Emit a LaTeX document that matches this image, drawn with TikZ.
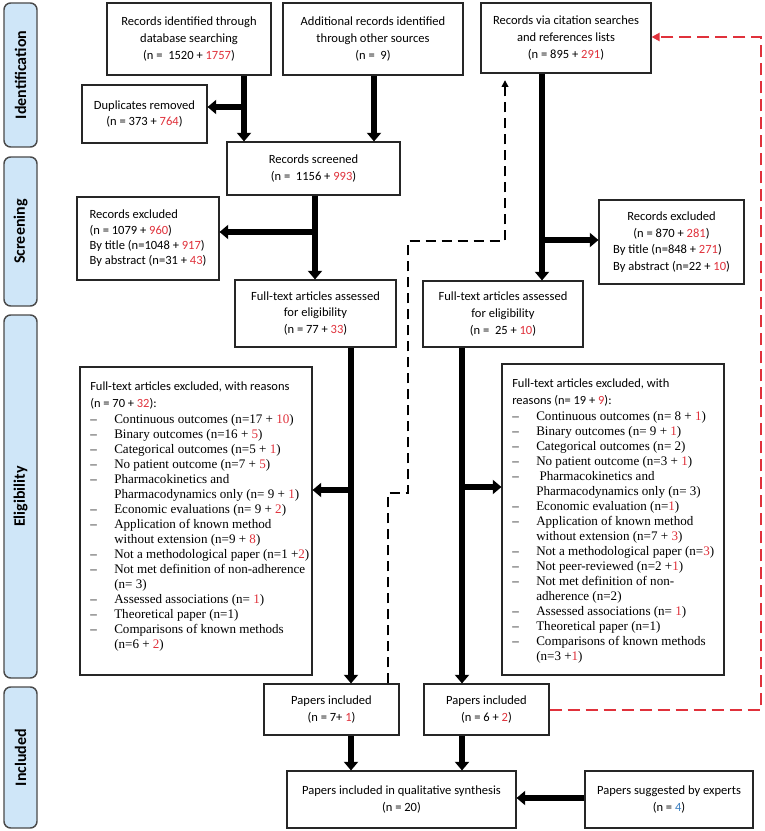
\documentclass[tikz,border=0pt]{standalone}
\usepackage{fontspec}
\setmainfont{Carlito}
\newfontfamily\tnr{Liberation Serif}
\usetikzlibrary{arrows.meta}
\definecolor{rd}{HTML}{E0313B}
\definecolor{bl}{HTML}{3C7FC0}
\definecolor{phfill}{HTML}{CFE6F8}
\definecolor{phdraw}{HTML}{4A4A4A}
\newcommand\rd[1]{\textcolor{rd}{#1}}
\newcommand\hd{\fontsize{9.35}{11.25}\selectfont}
\newcommand\itm[1]{\makebox[18pt][l]{\tnr –}{\tnr #1}}
\newcommand\cnt[1]{\hspace*{18pt}{\tnr #1}}
\begin{document}
\begin{tikzpicture}[x=0.75pt,y=-0.75pt,
  box/.style={draw=black!85, line width=0.8pt, inner sep=0pt, align=center, font=\fontsize{9.4}{12.5}\selectfont},
  phase/.style={draw=phdraw, fill=phfill, line width=1.1pt, rounded corners=5pt, rotate=90, inner sep=0pt, font=\fontsize{12}{14}\selectfont\bfseries, minimum height=24.75pt},
  txt/.style={anchor=north west, inner sep=0pt, align=left, font=\fontsize{9.8}{11.25}\selectfont},
  thick arrow/.style={line width=4.5pt, -{Triangle[width=10.5pt,length=6.5pt]}},
  dash arrow/.style={line width=1.1pt, dash pattern=on 7.5pt off 4.5pt, -{Triangle[width=5pt,length=5pt]}},
  red arrow/.style={draw=rd, line width=1.5pt, dash pattern=on 9pt off 4.5pt, -{Triangle[width=6pt,length=6pt]}}
]
\fill[white] (0,0) rectangle (764,831);
\useasboundingbox (0,0) rectangle (764,831);

% phase labels
\node[phase, minimum width=108pt] (ph1) at (20.5,75) {Identification};
\node[phase, minimum width=111.75pt] (ph2) at (20.5,231.5) {Screening};
\node[phase, minimum width=272.25pt] (ph3) at (20.5,496.5) {Eligibility};
\node[phase, minimum width=105.75pt] (ph4) at (20.5,757.5) {Included};

% identification
\node[box, minimum width=123pt, minimum height=54pt] (db) at (189,39) {Records identified through\\database searching\\(n =\ \ 1520 + \rd{1757})};
\node[box, minimum width=135pt, minimum height=54pt] (other) at (373,39) {Additional records identified\\through other sources\\(n =\ \ 9)};
\node[box, minimum width=127.5pt, minimum height=52.5pt] (cit) at (566,38) {Records via citation searches\\and references lists\\(n = 895 + \rd{291})};
\node[box, minimum width=93.75pt, minimum height=43.5pt] (dup) at (144.5,114) {Duplicates removed\\(n = 373 + \rd{764})};

% screening
\node[box, minimum width=129.75pt, minimum height=39.75pt] (scr) at (313.5,168.5) {Records screened\\(n =\ \ 1156 + \rd{993})};
\node[box, minimum width=106.5pt, minimum height=62.25pt, align=left, font=\fontsize{9.4}{11.5}\selectfont] (exsL) at (148,238.5) {Records excluded\\(n = 1079 + \rd{960})\\By title (n=1048 + \rd{917})\\By abstract (n=31 + \rd{43})};
\node[box, minimum width=108.75pt, minimum height=63pt] (exsR) at (671.5,242) {\begin{tabular}{@{}l@{}}\multicolumn{1}{@{}c@{}}{Records excluded}\\\multicolumn{1}{@{}c@{}}{(n = 870 + \rd{281})}\\By title (n=848 + \rd{271})\\By abstract (n=22 + \rd{10})\end{tabular}};
\node[box, minimum width=120.75pt, minimum height=50.25pt] (ftL) at (315.5,313.5) {Full-text articles assessed\\for eligibility\\(n = 77 + \rd{33})};
\node[box, minimum width=120pt, minimum height=49.5pt] (ftR) at (503,314) {Full-text articles assessed\\for eligibility\\(n =\ \ 25 + \rd{10})};

% eligibility
\node[box, minimum width=174pt, minimum height=231pt] (exL) at (196,521) {};
\node[box, minimum width=166.5pt, minimum height=233.25pt] (exR) at (613,519.5) {};
\node[txt] (exLt) at (90,382) {%
{\hd Full-text articles excluded, with reasons}\\[1.5pt]
{\hd (n = 70 + \rd{32}):}\\[0.75pt]
\itm{Continuous outcomes (n=17 + \rd{10})}\\
\itm{Binary outcomes (n=16 + \rd{5})}\\
\itm{Categorical outcomes (n=5 + \rd{1})}\\
\itm{No patient outcome (n=7 + \rd{5})}\\
\itm{Pharmacokinetics and}\\
\cnt{Pharmacodynamics only (n= 9 + \rd{1})}\\
\itm{Economic evaluations (n= 9 + \rd{2})}\\
\itm{Application of known method}\\
\cnt{without extension (n=9 + \rd{8})}\\
\itm{Not a methodological paper (n=1 +\rd{2})}\\
\itm{Not met definition of non-adherence}\\
\cnt{(n= 3)}\\
\itm{Assessed associations (n= \rd{1})}\\
\itm{Theoretical paper (n=1)}\\
\itm{Comparisons of known methods}\\
\cnt{(n=6 + \rd{2})}};
\node[txt] (exRt) at (512,379) {%
{\hd Full-text articles excluded, with}\\[1.5pt]
{\hd reasons (n= 19 + \rd{9}):}\\[0.75pt]
\itm{Continuous outcomes (n= 8 + \rd{1})}\\
\itm{Binary outcomes (n= 9 + \rd{1})}\\
\itm{Categorical outcomes (n= 2)}\\
\itm{No patient outcome (n=3 + \rd{1})}\\
\itm{\ Pharmacokinetics and}\\
\cnt{Pharmacodynamics only (n= 3)}\\
\itm{Economic evaluation (n=\rd{1})}\\
\itm{Application of known method}\\
\cnt{without extension (n=7 + \rd{3})}\\
\itm{Not a methodological paper (n=\rd{3})}\\
\itm{Not peer-reviewed (n=2 +\rd{1})}\\
\itm{Not met definition of non-}\\
\cnt{adherence (n=2)}\\
\itm{Assessed associations (n= \rd{1})}\\
\itm{Theoretical paper (n=1)}\\
\itm{Comparisons of known methods}\\
\cnt{(n=3 +\rd{1})}};

% included
\node[box, minimum width=101.25pt, minimum height=38.25pt] (piL) at (331.5,709.5) {Papers included\\(n = 7+ \rd{1})};
\node[box, minimum width=93.75pt, minimum height=38.25pt] (piR) at (486.5,709.5) {Papers included\\(n = 6 + \rd{2})};
\node[box, minimum width=171.75pt, minimum height=42.75pt] (fin) at (401.5,799.5) {Papers included in qualitative synthesis\\(n = 20)};
\node[box, minimum width=126pt, minimum height=42.75pt] (exp) at (669,799.5) {Papers suggested by experts\\(n = \textcolor{bl}{4})};

% connectors
\coordinate (j1) at (244,107);
\coordinate (j2) at (315,232);
\coordinate (j3) at (542,240);
\coordinate (j4) at (351,490);
\coordinate (j5) at (462,487);
\draw[thick arrow] (244,0 |- db.south) -- (244,0 |- scr.north);
\draw[thick arrow] (j1) -- (j1 -| dup.east);
\draw[thick arrow] (374,0 |- other.south) -- (374,0 |- scr.north);
\draw[thick arrow] (315,0 |- scr.south) -- (315,0 |- ftL.north);
\draw[thick arrow] (j2) -- (j2 -| exsL.east);
\draw[thick arrow] (542,0 |- cit.south) -- (542,0 |- ftR.north);
\draw[thick arrow] (j3) -- (j3 -| exsR.west);
\draw[thick arrow] (351,0 |- ftL.south) -- (351,0 |- piL.north);
\draw[thick arrow] (j4) -- (j4 -| exL.east);
\draw[thick arrow] (462,0 |- ftR.south) -- (462,0 |- piR.north);
\draw[thick arrow] (j5) -- (j5 -| exR.west);
\draw[thick arrow] (351,0 |- piL.south) -- (351,0 |- fin.north);
\draw[thick arrow] (462,0 |- piR.south) -- (462,0 |- fin.north);
\draw[thick arrow] (exp.west |- 0,798) -- (fin.east |- 0,798);
\draw[dash arrow, shorten >=5pt] (388,0 |- piL.north) -- (388,493) -- (408,493) -- (408,241) -- (505,241) -- (505,0 |- cit.south);
\draw[red arrow] (piR.east |- 0,710) -- (761,710) -- (761,37) -- (cit.east |- 0,37);
\end{tikzpicture}
\end{document}
